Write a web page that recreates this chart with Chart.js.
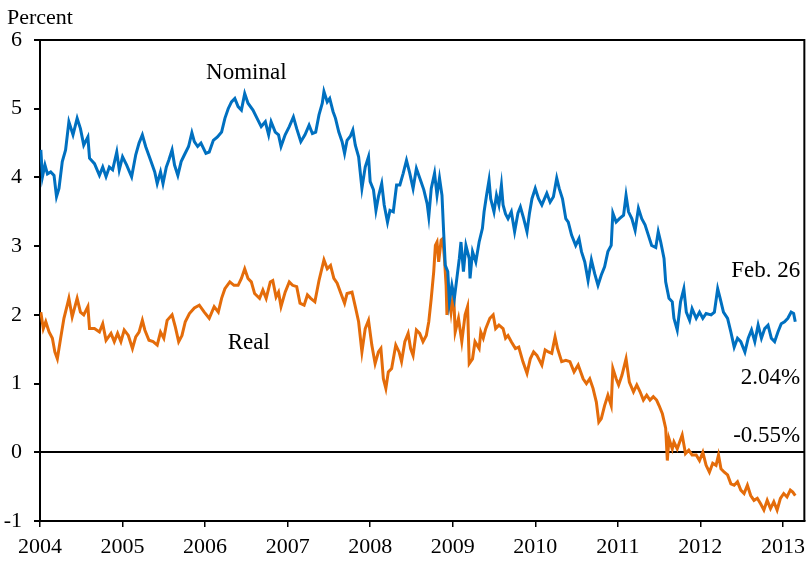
<!DOCTYPE html>
<html>
<head>
<meta charset="utf-8">
<script src="https://cdn.jsdelivr.net/npm/chart.js@4/dist/chart.umd.min.js"></script>
<style>
  body { margin: 0; background: #fff; }
  #wrap { width: 812px; height: 563px; }
</style>
</head>
<body>
<div id="wrap"><canvas id="yields" width="812" height="563"></canvas></div>
<script>
// dates as decimal years, yields in percent
const nominalDates = [
  2004.01, 2004.03, 2004.06, 2004.09, 2004.13, 2004.17, 2004.20, 2004.23, 2004.27, 2004.31,
  2004.35, 2004.40, 2004.45, 2004.49, 2004.53, 2004.58, 2004.60, 2004.66, 2004.72, 2004.76,
  2004.80, 2004.84, 2004.88, 2004.93, 2004.96, 2005.00, 2005.05, 2005.11, 2005.16, 2005.20,
  2005.24, 2005.28, 2005.34, 2005.39, 2005.42, 2005.46, 2005.49, 2005.53, 2005.56, 2005.60,
  2005.63, 2005.67, 2005.71, 2005.75, 2005.80, 2005.84, 2005.87, 2005.91, 2005.95, 2006.01,
  2006.05, 2006.10, 2006.15, 2006.20, 2006.24, 2006.28, 2006.32, 2006.36, 2006.40, 2006.44,
  2006.48, 2006.52, 2006.58, 2006.63, 2006.68, 2006.73, 2006.77, 2006.80, 2006.85, 2006.89,
  2006.92, 2006.97, 2007.02, 2007.07, 2007.11, 2007.16, 2007.21, 2007.26, 2007.30, 2007.34,
  2007.38, 2007.42, 2007.44, 2007.48, 2007.51, 2007.55, 2007.58, 2007.62, 2007.66, 2007.69,
  2007.72, 2007.76, 2007.79, 2007.82, 2007.86, 2007.90, 2007.94, 2007.98, 2008.00, 2008.04,
  2008.07, 2008.10, 2008.14, 2008.17, 2008.21, 2008.24, 2008.28, 2008.32, 2008.36, 2008.40,
  2008.44, 2008.48, 2008.52, 2008.56, 2008.61, 2008.65, 2008.69, 2008.71, 2008.74, 2008.78,
  2008.81, 2008.84, 2008.87, 2008.89, 2008.91, 2008.94, 2008.96, 2008.99, 2009.02, 2009.05,
  2009.08, 2009.10, 2009.13, 2009.16, 2009.20, 2009.21, 2009.24, 2009.28, 2009.32, 2009.36,
  2009.38, 2009.41, 2009.44, 2009.46, 2009.50, 2009.53, 2009.56, 2009.59, 2009.61, 2009.64,
  2009.67, 2009.71, 2009.75, 2009.79, 2009.82, 2009.86, 2009.90, 2009.93, 2009.96, 2010.00,
  2010.04, 2010.08, 2010.14, 2010.18, 2010.22, 2010.26, 2010.29, 2010.33, 2010.37, 2010.40,
  2010.44, 2010.49, 2010.53, 2010.56, 2010.60, 2010.64, 2010.68, 2010.72, 2010.76, 2010.80,
  2010.84, 2010.88, 2010.92, 2010.94, 2010.98, 2011.02, 2011.07, 2011.10, 2011.13, 2011.17,
  2011.21, 2011.25, 2011.29, 2011.33, 2011.37, 2011.41, 2011.46, 2011.49, 2011.52, 2011.56,
  2011.58, 2011.62, 2011.66, 2011.68, 2011.72, 2011.76, 2011.80, 2011.83, 2011.87, 2011.90,
  2011.95, 2011.99, 2012.03, 2012.07, 2012.13, 2012.17, 2012.21, 2012.24, 2012.28, 2012.33,
  2012.37, 2012.41, 2012.45, 2012.49, 2012.54, 2012.58, 2012.62, 2012.66, 2012.70, 2012.74,
  2012.78, 2012.82, 2012.86, 2012.90, 2012.94, 2012.98, 2013.02, 2013.06, 2013.10, 2013.13,
  2013.15
];
const nominalYields = [
  4.40, 4.01, 4.18, 4.05, 4.08, 4.03, 3.72, 3.84, 4.23, 4.40,
  4.81, 4.62, 4.86, 4.71, 4.47, 4.59, 4.28, 4.20, 4.03, 4.15,
  4.01, 4.15, 4.11, 4.37, 4.11, 4.30, 4.18, 4.01, 4.33, 4.50,
  4.62, 4.45, 4.25, 4.08, 3.91, 4.08, 3.91, 4.15, 4.25, 4.40,
  4.18, 4.03, 4.23, 4.33, 4.45, 4.65, 4.52, 4.45, 4.50, 4.35,
  4.37, 4.54, 4.59, 4.66, 4.86, 5.00, 5.10, 5.15, 5.03, 4.98,
  5.22, 5.08, 4.98, 4.86, 4.74, 4.81, 4.62, 4.81, 4.66, 4.62,
  4.45, 4.62, 4.74, 4.88, 4.71, 4.52, 4.62, 4.76, 4.64, 4.66,
  4.91, 5.08, 5.25, 5.10, 5.15, 4.96, 4.86, 4.66, 4.52, 4.35,
  4.54, 4.60, 4.69, 4.47, 4.30, 3.84, 4.15, 4.30, 3.94, 3.82,
  3.52, 3.72, 3.91, 3.60, 3.35, 3.52, 3.50, 3.89, 3.89, 4.06,
  4.25, 4.06, 3.84, 4.13, 3.96, 3.82, 3.62, 3.43, 3.84, 4.06,
  3.74, 3.99, 3.74, 3.21, 2.72, 2.63, 2.19, 2.43, 2.24, 2.53,
  2.82, 3.06, 2.63, 3.01, 2.82, 2.53, 2.92, 2.77, 3.06, 3.26,
  3.50, 3.74, 3.96, 3.69, 3.50, 3.74, 3.60, 3.89, 3.60, 3.47,
  3.40, 3.50, 3.21, 3.48, 3.57, 3.40, 3.21, 3.48, 3.69, 3.84,
  3.69, 3.60, 3.77, 3.64, 3.72, 3.99, 3.84, 3.69, 3.40, 3.35,
  3.16, 3.01, 3.11, 2.92, 2.77, 2.50, 2.80, 2.60, 2.43, 2.58,
  2.70, 2.92, 3.01, 3.48, 3.35, 3.40, 3.45, 3.74, 3.50, 3.40,
  3.23, 3.55, 3.40, 3.31, 3.16, 3.01, 2.98, 3.21, 3.06, 2.82,
  2.48, 2.24, 2.19, 1.95, 1.78, 2.19, 2.38, 2.04, 1.92, 2.09,
  1.95, 2.04, 1.95, 2.02, 2.00, 2.04, 2.38, 2.24, 2.04, 1.95,
  1.75, 1.53, 1.66, 1.61, 1.46, 1.66, 1.78, 1.61, 1.85, 1.66,
  1.80, 1.85, 1.66, 1.61, 1.75, 1.87, 1.90, 1.95, 2.04, 2.02,
  1.90
];
const realDates = [
  2004.01, 2004.04, 2004.07, 2004.11, 2004.15, 2004.18, 2004.21, 2004.25, 2004.29, 2004.33,
  2004.35, 2004.39, 2004.45, 2004.49, 2004.53, 2004.58, 2004.60, 2004.66, 2004.72, 2004.76,
  2004.80, 2004.86, 2004.90, 2004.94, 2004.98, 2005.02, 2005.07, 2005.12, 2005.16, 2005.20,
  2005.24, 2005.27, 2005.32, 2005.37, 2005.42, 2005.46, 2005.50, 2005.54, 2005.60, 2005.64,
  2005.68, 2005.72, 2005.76, 2005.81, 2005.87, 2005.93, 2005.99, 2006.05, 2006.11, 2006.16,
  2006.20, 2006.24, 2006.30, 2006.35, 2006.40, 2006.44, 2006.48, 2006.52, 2006.56, 2006.60,
  2006.66, 2006.70, 2006.74, 2006.79, 2006.82, 2006.86, 2006.89, 2006.92, 2006.97, 2007.02,
  2007.06, 2007.11, 2007.15, 2007.20, 2007.24, 2007.28, 2007.33, 2007.38, 2007.44, 2007.48,
  2007.52, 2007.56, 2007.60, 2007.64, 2007.69, 2007.72, 2007.78, 2007.82, 2007.86, 2007.90,
  2007.94, 2007.98, 2008.02, 2008.06, 2008.10, 2008.13, 2008.16, 2008.19, 2008.22, 2008.26,
  2008.31, 2008.35, 2008.38, 2008.42, 2008.46, 2008.49, 2008.52, 2008.56, 2008.60, 2008.64,
  2008.68, 2008.71, 2008.74, 2008.77, 2008.79, 2008.81, 2008.83, 2008.86, 2008.88, 2008.90,
  2008.92, 2008.93, 2008.96, 2008.98, 2009.01, 2009.03, 2009.07, 2009.11, 2009.15, 2009.18,
  2009.20, 2009.24, 2009.27, 2009.32, 2009.34, 2009.37, 2009.40, 2009.45, 2009.49, 2009.52,
  2009.56, 2009.61, 2009.64, 2009.67, 2009.71, 2009.76, 2009.80, 2009.85, 2009.90, 2009.94,
  2009.98, 2010.02, 2010.08, 2010.12, 2010.16, 2010.20, 2010.24, 2010.27, 2010.32, 2010.37,
  2010.42, 2010.47, 2010.52, 2010.58, 2010.62, 2010.66, 2010.70, 2010.74, 2010.77, 2010.80,
  2010.84, 2010.88, 2010.92, 2010.94, 2010.98, 2011.01, 2011.05, 2011.10, 2011.14, 2011.19,
  2011.23, 2011.27, 2011.31, 2011.35, 2011.39, 2011.43, 2011.47, 2011.50, 2011.54, 2011.58,
  2011.60, 2011.62, 2011.66, 2011.68, 2011.72, 2011.78, 2011.82, 2011.86, 2011.90, 2011.95,
  2011.99, 2012.03, 2012.07, 2012.11, 2012.15, 2012.19, 2012.22, 2012.25, 2012.29, 2012.33,
  2012.37, 2012.41, 2012.45, 2012.49, 2012.53, 2012.57, 2012.61, 2012.65, 2012.69, 2012.73,
  2012.77, 2012.81, 2012.85, 2012.89, 2012.93, 2012.97, 2013.01, 2013.05, 2013.09, 2013.12,
  2013.15
];
const realYields = [
  2.04, 1.80, 1.90, 1.75, 1.66, 1.46, 1.36, 1.66, 1.95, 2.14,
  2.24, 1.97, 2.24, 2.04, 2.00, 2.12, 1.80, 1.80, 1.75, 1.87,
  1.63, 1.73, 1.61, 1.73, 1.61, 1.78, 1.70, 1.51, 1.68, 1.75,
  1.92, 1.78, 1.63, 1.61, 1.56, 1.75, 1.66, 1.92, 2.00, 1.82,
  1.61, 1.70, 1.90, 2.02, 2.10, 2.14, 2.04, 1.95, 2.12, 2.04,
  2.24, 2.38, 2.48, 2.43, 2.43, 2.53, 2.67, 2.53, 2.48, 2.31,
  2.24, 2.36, 2.24, 2.48, 2.50, 2.26, 2.33, 2.12, 2.33, 2.48,
  2.43, 2.41, 2.17, 2.14, 2.29, 2.24, 2.19, 2.50, 2.80, 2.67,
  2.72, 2.53, 2.46, 2.33, 2.17, 2.31, 2.33, 2.12, 1.90, 1.46,
  1.80, 1.92, 1.56, 1.29, 1.46, 1.51, 1.07, 0.93, 1.17, 1.22,
  1.56, 1.46, 1.32, 1.61, 1.73, 1.51, 1.41, 1.78, 1.73, 1.61,
  1.70, 1.90, 2.24, 2.63, 3.01, 3.06, 2.77, 3.09, 3.11, 2.82,
  2.43, 2.00, 2.24, 2.04, 2.33, 1.75, 1.95, 1.61, 2.00, 2.12,
  1.29, 1.36, 1.61, 1.51, 1.75, 1.66, 1.80, 1.95, 2.00, 1.80,
  1.85, 1.80, 1.66, 1.70, 1.61, 1.51, 1.53, 1.32, 1.15, 1.36,
  1.46, 1.41, 1.27, 1.49, 1.46, 1.44, 1.68, 1.51, 1.32, 1.34,
  1.32, 1.17, 1.27, 1.07, 1.00, 1.07, 0.93, 0.73, 0.44, 0.49,
  0.68, 0.83, 0.68, 1.22, 1.07, 0.98, 1.12, 1.36, 1.02, 0.88,
  0.98, 0.88, 0.76, 0.83, 0.76, 0.81, 0.76, 0.68, 0.56, 0.35,
  -0.12, 0.20, 0.05, 0.15, 0.05, 0.25, -0.02, 0.03, -0.04, -0.04,
  -0.12, 0.00, -0.19, -0.29, -0.16, -0.19, -0.04, -0.24, -0.29, -0.33,
  -0.46, -0.48, -0.43, -0.55, -0.60, -0.48, -0.63, -0.70, -0.67, -0.75,
  -0.84, -0.70, -0.82, -0.72, -0.84, -0.67, -0.60, -0.65, -0.55, -0.58,
  -0.63
];
const yMin = -1, yMax = 6;
const xMin = 2004, xMax = 2013.26;

// text notes placed in data units (year, percent); baseline at y
const noteTexts = ["Nominal", "Real", "Feb. 26", "2.04%", "-0.55%"];
const noteYears = [2006.50, 2006.53, 2013.21, 2013.21, 2013.21];
const noteValues = [5.43, 1.51, 2.55, 1.00, 0.15];
const noteAlign = ["center", "center", "right", "right", "right"];

const serif = "'Liberation Serif', 'Times New Roman', serif";

const toPoints = (dates, vals) => dates.map((d, i) => ({ x: d, y: vals[i] }));

const framePlugin = {
  id: "frame",
  afterDraw(chart) {
    const { ctx, chartArea, scales } = chart;
    ctx.save();
    ctx.strokeStyle = "#000";
    ctx.lineWidth = 2;
    ctx.beginPath();
    ctx.moveTo(chartArea.left, chartArea.top);
    ctx.lineTo(chartArea.right, chartArea.top);
    ctx.lineTo(chartArea.right, chartArea.bottom);
    ctx.stroke();

    ctx.fillStyle = "#000";
    ctx.font = "22px " + serif;
    ctx.textBaseline = "alphabetic";
    ctx.textAlign = "left";
    ctx.fillText("Percent", 7, 24);

    ctx.font = "23px " + serif;
    noteTexts.forEach((t, i) => {
      ctx.textAlign = noteAlign[i];
      ctx.fillText(t, scales.x.getPixelForValue(noteYears[i]), scales.y.getPixelForValue(noteValues[i]));
    });
    ctx.restore();
  }
};

new Chart(document.getElementById("yields"), {
  type: "line",
  data: {
    datasets: [
      {
        label: "Nominal",
        data: toPoints(nominalDates, nominalYields),
        borderColor: "#0070C0",
        borderWidth: 3,
        pointRadius: 0,
        tension: 0
      },
      {
        label: "Real",
        data: toPoints(realDates, realYields),
        borderColor: "#E46C0A",
        borderWidth: 3,
        pointRadius: 0,
        tension: 0
      }
    ]
  },
  options: {
    responsive: false,
    animation: false,
    layout: { padding: { top: 40, right: 4, left: 0, bottom: 0 } },
    plugins: { legend: { display: false }, tooltip: { enabled: false } },
    scales: {
      x: {
        type: "linear",
        min: xMin,
        max: xMax,
        afterFit: (s) => { s.height = 42; },
        border: { color: "#000", width: 2 },
        grid: { drawOnChartArea: false, tickLength: 6, tickColor: "#000", lineWidth: 1.5 },
        ticks: {
          stepSize: 1,
          includeBounds: false,
          autoSkip: false,
          maxRotation: 0,
          padding: 7,
          color: "#000",
          font: { family: serif, size: 22 },
          callback: (v) => String(Math.round(v))
        }
      },
      y: {
        min: yMin,
        max: yMax,
        afterFit: (s) => { s.width = 40; },
        border: { color: "#000", width: 2 },
        grid: {
          tickLength: 6,
          tickColor: "#000",
          lineWidth: 2,
          color: (c) => (c.tick && c.tick.value === 0 ? "#000" : "rgba(0,0,0,0)")
        },
        ticks: {
          stepSize: 1,
          padding: 12,
          color: "#000",
          font: { family: serif, size: 22 }
        }
      }
    }
  },
  plugins: [framePlugin]
});
</script>
</body>
</html>
